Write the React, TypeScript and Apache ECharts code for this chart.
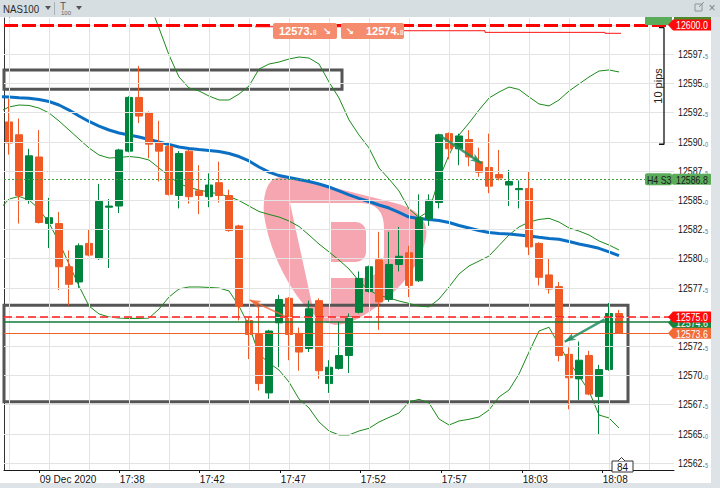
import React, { useEffect, useLayoutEffect, useRef } from "react";
import * as echarts from "echarts";

// candles (index 0..61)
const opens = [
  12591.7, 12590.6, 12585.0, 12588.7, 12583.0, 12583.0, 12579.3, 12578.0, 12581.3, 12580.0,
  12584.4, 12584.5, 12589.2, 12593.8, 12592.5, 12589.9, 12589.6, 12585.4, 12589.2, 12585.8,
  12585.3, 12586.5, 12585.4, 12582.8, 12574.7, 12573.5, 12568.5, 12574.5, 12576.6, 12573.6,
  12572.3, 12576.4, 12569.3, 12570.6, 12571.7, 12575.4, 12577.2, 12579.9, 12576.5, 12579.5,
  12580.5, 12578.1, 12583.4, 12584.8, 12590.7, 12589.4, 12590.2, 12588.3, 12587.8, 12587.2,
  12586.3, 12585.9, 12586.0, 12581.3, 12578.6, 12577.6, 12571.8, 12569.7, 12571.7, 12568.2,
  12570.5, 12575.3,
];
const closes = [
  12589.9, 12585.4, 12588.8, 12583.1, 12583.5, 12579.3, 12577.8, 12581.1, 12580.3, 12584.9,
  12584.5, 12589.3, 12593.8, 12592.2, 12589.8, 12589.2, 12585.5, 12589.0, 12585.3, 12585.4,
  12586.3, 12585.4, 12582.4, 12575.9, 12573.5, 12569.3, 12573.8, 12576.5, 12573.5, 12572.0,
  12575.7, 12570.4, 12570.7, 12571.7, 12575.0, 12578.3, 12579.3, 12576.3, 12579.5, 12580.2,
  12577.7, 12583.5, 12585.0, 12590.6, 12589.4, 12590.5, 12588.7, 12587.4, 12586.2, 12586.9,
  12586.6, 12586.0, 12581.0, 12578.4, 12577.4, 12571.7, 12569.8, 12571.3, 12568.4, 12570.5,
  12575.3, 12573.6,
];
const lows = [
  12588.9, 12583.0, 12584.7, 12583.0, 12580.9, 12577.3, 12576.0, 12577.5, 12580.2, 12579.9,
  12579.2, 12583.9, 12589.1, 12591.6, 12588.6, 12586.6, 12585.4, 12584.3, 12584.7, 12583.8,
  12584.4, 12584.8, 12582.3, 12574.7, 12571.4, 12568.7, 12568.0, 12570.7, 12571.3, 12570.4,
  12572.0, 12569.7, 12568.5, 12570.5, 12570.2, 12575.3, 12577.1, 12573.9, 12576.3, 12578.9,
  12576.7, 12578.0, 12582.8, 12584.3, 12588.5, 12588.0, 12587.9, 12587.0, 12585.6, 12586.7,
  12584.5, 12584.3, 12580.3, 12577.7, 12577.0, 12571.2, 12567.1, 12567.9, 12568.3, 12564.9,
  12570.4, 12573.6,
];
const highs = [
  12593.7, 12592.0, 12589.4, 12591.0, 12585.2, 12584.0, 12580.7, 12581.3, 12582.5, 12586.4,
  12585.1, 12589.4, 12593.9, 12596.5, 12592.6, 12591.8, 12589.7, 12589.2, 12589.3, 12588.0,
  12587.3, 12588.3, 12585.9, 12582.9, 12575.0, 12575.9, 12573.9, 12576.9, 12576.7, 12574.1,
  12576.4, 12576.6, 12571.3, 12574.6, 12575.3, 12578.9, 12579.4, 12582.3, 12582.3, 12582.7,
  12581.1, 12585.5, 12585.5, 12590.7, 12590.8, 12590.7, 12591.0, 12589.5, 12590.7, 12589.3,
  12587.6, 12586.7, 12587.5, 12581.4, 12580.0, 12578.0, 12572.4, 12572.9, 12572.1, 12570.9,
  12576.2, 12575.6,
];

// indicator lines start one candle left of the first visible candle
const lineStart = -1;
const ma = [
  12593.88, 12593.84, 12593.77, 12593.72, 12593.62, 12593.45, 12593.15, 12592.72, 12592.21, 12591.74,
  12591.35, 12591.01, 12590.75, 12590.58, 12590.41, 12590.2, 12589.98, 12589.77, 12589.55, 12589.43,
  12589.34, 12589.26, 12589.17, 12589.0, 12588.74, 12588.36, 12587.84, 12587.41, 12587.11, 12586.94,
  12586.77, 12586.6, 12586.39, 12586.13, 12585.79, 12585.45, 12585.15, 12584.89, 12584.59, 12584.33,
  12583.95, 12583.56, 12583.43, 12583.35, 12583.26, 12583.09, 12582.83, 12582.62, 12582.41, 12582.23,
  12582.15, 12582.11, 12582.02, 12581.93, 12581.82, 12581.72, 12581.65, 12581.46, 12581.25, 12581.08,
  12580.88, 12580.57, 12580.25,
];
const bbUpper = [
  12600.94, 12600.86, 12600.98, 12601.2, 12601.54, 12601.88, 12602.14, 12602.48, 12602.83, 12603.0,
  12602.48, 12602.23, 12602.4, 12602.61, 12602.44, 12601.97, 12599.74, 12597.43, 12595.55, 12594.61,
  12594.35, 12593.92, 12593.58, 12593.58, 12594.09, 12594.78, 12596.23, 12596.66, 12596.83, 12597.09,
  12597.26, 12597.17, 12596.66, 12595.12, 12593.75, 12591.87, 12590.58, 12589.47, 12587.76, 12586.82,
  12585.79, 12584.25, 12583.52, 12584.08, 12586.82, 12588.87, 12590.58, 12591.61, 12592.72, 12593.75,
  12594.26, 12594.69, 12594.48, 12593.84, 12593.24, 12593.07, 12593.58, 12594.35, 12594.95, 12595.55,
  12596.06, 12596.15, 12595.98,
];
const bbMiddle = [
  12592.55, 12592.98, 12593.15, 12593.11, 12592.89, 12592.47, 12591.78, 12591.01, 12590.24, 12589.47,
  12588.87, 12588.61, 12588.66, 12588.74, 12588.66, 12588.44, 12587.76, 12587.07, 12586.43, 12586.09,
  12585.87, 12585.7, 12585.53, 12585.32, 12584.97, 12584.5, 12584.03, 12583.78, 12583.56, 12583.22,
  12582.75, 12582.02, 12581.25, 12580.57, 12579.88, 12579.11, 12578.08, 12577.31, 12576.84, 12576.63,
  12576.37, 12576.16, 12575.94, 12575.86, 12576.54, 12577.57, 12578.68, 12579.37, 12579.79, 12580.22,
  12581.12, 12582.02, 12582.71, 12583.13, 12583.35, 12583.45, 12583.13, 12582.62, 12582.36, 12582.02,
  12581.51, 12581.16, 12580.74,
];
const bbLower = [
  12584.16, 12585.1, 12585.32, 12585.02, 12584.25, 12583.05, 12581.42, 12579.54, 12577.65, 12575.94,
  12575.26, 12575.0, 12574.91, 12574.87, 12574.87, 12574.91, 12575.68, 12576.71, 12577.4, 12577.57,
  12577.57, 12577.53, 12577.48, 12577.23, 12575.94, 12574.23, 12571.83, 12571.06, 12570.46, 12569.43,
  12567.98, 12567.21, 12566.01, 12565.24, 12564.9, 12564.9, 12565.24, 12565.47, 12566.01, 12566.4,
  12566.78, 12567.72, 12567.95, 12567.64, 12566.27, 12565.75, 12566.1, 12566.24, 12566.44, 12567.04,
  12568.15, 12568.75, 12570.12, 12572.0, 12573.8, 12574.12, 12572.6, 12571.15, 12569.95, 12568.66,
  12566.61, 12566.35, 12565.5,
];

// axes
const yTicks = [
  12562.5, 12565, 12567.5, 12570, 12572.5, 12575, 12577.5, 12580,
  12582.5, 12585, 12587.5, 12590, 12592.5, 12595, 12597.5, 12600,
];
const xTickPos = [3.07, 11.07, 19.07, 27.17, 35.17, 43.27, 51.37, 59.37];
const xTickLabels = ["09 Dec 2020", "17:38", "17:42", "17:47", "17:52", "17:57", "18:03", "18:08"];
const gridXs = [0, 4, 8, 12, 16, 20, 24, 28, 32, 36, 40, 44, 48, 52, 56, 60, 64];

// levels and drawings
const topLevel = 12600.0;
const pivotS3 = 12586.8;
const redLevel = 12575.0;
const greenLevel = 12574.63;
const lastPrice = 12573.6;
const boxX0 = [-0.5, -0.5];
const boxX1 = [33.3, 61.9];
const boxYTop = [12596.15, 12576.0];
const boxYBottom = [12594.5, 12567.75];
const greenArrowFrom = [[43.07, 12590.54], [59.57, 12574.8]];
const greenArrowTo = [[47.24, 12588.16], [55.57, 12572.88]];
const orangeArrowFrom = [27.57, 12575.09];
const orangeArrowTo = [24.07, 12576.46];
const stepX = [24.6, 33.3, 47.6, 59.6, 61.2];
const stepY = [12599.85, 12599.51, 12599.37, 12599.29, 12599.29];
const pipsX = [65.0, 65.5, 65.5, 65.0];
const pipsY = [12599.77, 12599.77, 12589.79, 12589.79];

const FONT = "'Liberation Sans', Arial, sans-serif";
const NARROW = 0.8; // the terminal's font is a narrow one
const UP = "#00843d";
const DOWN = "#f15a24";
const PINK = "#f6a6b0";

echarts.graphic.registerShape(
  "logoBlob",
  echarts.graphic.extendPath(
    "M 272 180 Q 280 175 292 177 L 395 203 Q 430 212 426 238 Q 420 270 385 300 Q 355 325 335 325 Q 315 322 295 293 Q 270 255 264 215 Q 262 190 272 180 Z",
    {}
  )
);
echarts.graphic.registerShape(
  "logoP",
  echarts.graphic.extendPath(
    "M 290 203 L 360 203 Q 384 203 384 228 L 384 252 Q 384 278 360 278 L 331 278 L 331 304 L 312 304 Z",
    {}
  )
);

const splitPrice = (v: number) => {
  const s = v.toFixed(1);
  const dot = s.indexOf(".");
  return [s.slice(0, dot + 1), s.slice(dot + 1)];
};

const midText = (x: number, y: number, text: string, fill: string, size: number, z: number, extra: any = {}) => ({
  type: "text",
  z,
  silent: true,
  x,
  y,
  ...extra,
  style: {
    text,
    fill,
    font: `${extra.bold ? "bold " : ""}${size}px ${FONT}`,
    textAlign: extra.align || "left",
    align: extra.align || "left",
    textVerticalAlign: "middle",
    verticalAlign: "middle",
  },
});

function tag(yc: number, fill: string, text: string, color: string, z: number) {
  const h = 5.5;
  return [
    {
      type: "polygon",
      z,
      silent: true,
      shape: { points: [[668, yc], [673, yc - h], [712, yc - h], [712, yc + h], [673, yc + h]] },
      style: { fill },
    },
    midText(676, yc + 0.5, text, color, 11, z + 0.1, { scaleX: NARROW }),
  ];
}

function priceButton(x: number, w: number, price: number, arrowLeft: boolean) {
  const [a, b] = splitPrice(price);
  const tx = arrowLeft ? x + 25 : x + 6;
  const ax = arrowLeft ? x + 9 : x + w - 10;
  return [
    { type: "rect", z: 60, silent: true, shape: { x, y: 23, width: w, height: 16, r: 2 }, style: { fill: "#f58c6e" } },
    {
      type: "text",
      z: 61,
      silent: true,
      x: tx,
      y: 31,
      style: {
        text: `{a|${a}}{b|${b}}`,
        textVerticalAlign: "middle",
        verticalAlign: "middle",
        rich: {
          a: { fill: "#fff", fontSize: 11, fontWeight: "bold", fontFamily: FONT },
          b: { fill: "#fde0d6", fontSize: 7, fontWeight: "bold", fontFamily: FONT, padding: [3, 0, 0, 0] },
        },
      },
    },
    {
      type: "text",
      z: 61,
      silent: true,
      x: ax,
      y: 31,
      style: { text: "↘", fill: "#fff", font: `bold 10px 'DejaVu Sans', sans-serif`, textAlign: "center", align: "center", textVerticalAlign: "middle", verticalAlign: "middle" },
    },
  ];
}

function buildGraphic(py: (v: number) => number): any[] {
  const tri = (x: number) => ({
    type: "polygon",
    z: 101,
    silent: true,
    shape: { points: [[x, 6], [x + 6, 6], [x + 3, 10]] },
    style: { fill: "#555" },
  });
  const yTop = py(topLevel);
  const yS3 = py(pivotS3);
  const yLabels = yTicks.map((v) => {
    const [a, b] = splitPrice(v);
    return {
      type: "text",
      z: 30,
      silent: true,
      x: 678,
      y: py(v),
      scaleX: NARROW,
      style: {
        text: `{a|${a}}{b|${b}}`,
        textVerticalAlign: "middle",
        verticalAlign: "middle",
        rich: {
          a: { fill: "#111", fontSize: 11, fontFamily: FONT },
          b: { fill: "#5b7594", fontSize: 7, fontFamily: FONT, padding: [4, 0, 0, 0] },
        },
      },
    };
  });
  return [
    // watermark
    { type: "logoBlob", z: 0, silent: true, style: { fill: PINK } },
    { type: "logoP", z: 0.2, silent: true, style: { fill: "#ffffff" } },
    { type: "rect", z: 0.3, silent: true, shape: { x: 331, y: 222, width: 35, height: 40, r: [0, 10, 10, 0] }, style: { fill: PINK } },

    // frame
    { type: "rect", z: 100, silent: true, shape: { x: 0, y: 0, width: 720, height: 17 }, style: { fill: "#d7dee2" } },
    { type: "rect", z: 100, silent: true, shape: { x: 711, y: 17, width: 9, height: 471 }, style: { fill: "#dde3e6" } },
    { type: "rect", z: 100, silent: true, shape: { x: 0, y: 483, width: 720, height: 5 }, style: { fill: "#dde3e6" } },
    midText(3, 9, "NAS100", "#2a2a2a", 11, 101, { scaleX: 0.88 }),
    tri(45),
    { type: "line", z: 101, silent: true, shape: { x1: 54.5, y1: 2, x2: 54.5, y2: 15 }, style: { stroke: "#a9b2b8", lineWidth: 1 } },
    midText(60, 6, "T", "#555", 10, 101),
    midText(61, 13, "100", "#666", 6, 101),
    tri(76),
    { type: "rect", z: 101, silent: true, shape: { x: 695, y: 4, width: 7, height: 7 }, style: { fill: "none", stroke: "#8a959c", lineWidth: 1 } },
    { type: "line", z: 101, silent: true, shape: { x1: 699, y1: 7, x2: 704, y2: 2 }, style: { stroke: "#8a959c", lineWidth: 1 } },
    midText(712, 8, "×", "#7d878d", 12, 101, { align: "center" }),

    // order buttons
    ...priceButton(273, 64, 12573.8, false),
    ...priceButton(341, 63, 12574.8, true),

    // price scale
    ...yLabels,

    // right side tags
    { type: "rect", z: 40, silent: true, shape: { x: 645, y: yTop - 12, width: 27, height: 12 }, style: { fill: "#5aab5a" } },
    { type: "rect", z: 40, silent: true, shape: { x: 674, y: yTop - 12, width: 38, height: 12 }, style: { fill: "#4d8a2c" } },
    ...tag(yTop, "#ff0a0a", "12600.0", "#ffffff", 50),
    { type: "rect", z: 50, silent: true, shape: { x: 645, y: yS3 - 6, width: 27, height: 12, r: 2 }, style: { fill: "#5aab5a" } },
    midText(647, yS3 + 0.5, "H4 S3", "#1a1a1a", 11, 50.1, { scaleX: NARROW }),
    ...tag(yS3, "#5aab5a", "12586.8", "#1a1a1a", 50),
    ...tag(py(greenLevel) + 1.5, "#17843c", "12574.6", "#ffffff", 52),
    ...tag(py(redLevel), "#ff0a0a", "12575.0", "#ffffff", 54),
    ...tag(py(lastPrice), "#f26a35", "12573.6", "#ffffff", 56),

    // measurement text and bar counter
    midText(658, (py(pipsY[0]) + py(pipsY[2])) / 2, "10 pips", "#222", 11, 60, { rotation: Math.PI / 2, align: "center" }),
    { type: "rect", z: 60, silent: true, shape: { x: 612, y: 461, width: 21, height: 11 }, style: { fill: "#fff", stroke: "#333", lineWidth: 1 } },
    { type: "polyline", z: 60, silent: true, shape: { points: [[618, 461], [621.5, 457.5], [625, 461]] }, style: { fill: "#fff", stroke: "#333", lineWidth: 1 } },
    midText(622.5, 467, "84", "#111", 10, 61, { align: "center" }),
  ];
}

const toLine = (arr: number[]) => arr.map((v, k) => [lineStart + k, v]);
const candleData = opens.map((o, i) => [i, o, closes[i], lows[i], highs[i]]);

function buildOption(): echarts.EChartsOption {
  const yMin = 12561.9;
  const yMax = 12600.6;
  return {
    animation: false,
    backgroundColor: "#ffffff",
    textStyle: { fontFamily: FONT },
    tooltip: { show: false },
    grid: { left: 4, right: 46, top: 18, bottom: 18, outerBoundsMode: "none" } as any,
    xAxis: {
      type: "value",
      min: -0.5,
      max: 66.5,
      axisLine: { show: true, onZero: false, lineStyle: { color: "#1a1a1a", width: 1 } },
      axisTick: { show: true, customValues: xTickPos, length: 3, lineStyle: { color: "#1a1a1a" } } as any,
      axisLabel: {
        customValues: xTickPos,
        align: "left",
        margin: 4,
        fontSize: 10,
        color: "#111",
        fontFamily: FONT,
        formatter: (v: number) => {
          const k = xTickPos.findIndex((p) => Math.abs(p - v) < 0.01);
          return k >= 0 ? xTickLabels[k] : "";
        },
      } as any,
      splitLine: { show: false },
    },
    yAxis: [
      {
        type: "value",
        position: "right",
        min: yMin,
        max: yMax,
        axisLine: { show: true, lineStyle: { color: "#1a1a1a", width: 1 } },
        axisTick: { show: true, customValues: yTicks, length: 3, lineStyle: { color: "#1a1a1a" } } as any,
        axisLabel: { show: false },
        splitLine: { show: false },
      },
      {
        type: "value",
        position: "left",
        min: yMin,
        max: yMax,
        axisLine: { show: true, lineStyle: { color: "#333", width: 1 } },
        axisTick: { show: false },
        axisLabel: { show: false },
        splitLine: { show: false },
      },
    ],
    series: [
      {
        type: "line",
        name: "grid",
        data: [[-3, 12580]],
        symbol: "none",
        lineStyle: { opacity: 0 },
        z: 1,
        silent: true,
        markLine: {
          silent: true,
          symbol: ["none", "none"],
          label: { show: false },
          lineStyle: { color: "#e3e3e3", width: 1, type: "solid" },
          data: [...gridXs.map((x) => ({ xAxis: x })), ...yTicks.map((y) => ({ yAxis: y }))],
        },
      },
      ...[bbUpper, bbMiddle, bbLower].map((arr, k) => ({
        type: "line" as const,
        name: ["BB upper", "BB middle", "BB lower"][k],
        data: toLine(arr),
        symbol: "none",
        silent: true,
        z: 2,
        lineStyle: { color: "#1b8a1b", width: 1 },
      })),
      {
        type: "line",
        name: "MA",
        data: toLine(ma),
        symbol: "none",
        silent: true,
        z: 3,
        lineStyle: { color: "#0b6fc3", width: 3 },
      },
      {
        type: "candlestick",
        name: "NAS100",
        data: candleData,
        encode: { x: 0, y: [1, 2, 3, 4] },
        barWidth: 7,
        silent: true,
        z: 4,
        itemStyle: { color: UP, color0: DOWN, borderColor: UP, borderColor0: DOWN, borderWidth: 1 },
      },
      {
        type: "line",
        name: "levels",
        data: [[-3, 12580]],
        symbol: "none",
        lineStyle: { opacity: 0 },
        z: 6,
        silent: true,
        markLine: {
          silent: true,
          symbol: ["none", "none"],
          label: { show: false },
          data: [
            { yAxis: pivotS3, lineStyle: { color: "#3f9c3f", width: 1, type: [2, 2] } },
            { yAxis: lastPrice, lineStyle: { color: "#f0602a", width: 1, type: "solid" } },
            { yAxis: greenLevel, lineStyle: { color: "#12783a", width: 1.5, type: "solid" } },
            { yAxis: redLevel, lineStyle: { color: "#ff1a1a", width: 1.5, type: [8, 4] } },
            { yAxis: topLevel, lineStyle: { color: "#ff0000", width: 3, type: [14, 4] } },
          ] as any,
        },
        markArea: {
          silent: true,
          itemStyle: { color: "rgba(0,0,0,0)", borderColor: "#555555", borderWidth: 3 },
          data: boxX0.map((x0, k) => [
            { coord: [x0, boxYTop[k]] },
            { coord: [boxX1[k], boxYBottom[k]] },
          ]) as any,
        },
      },
      {
        type: "line",
        name: "arrows",
        data: [[-3, 12580]],
        symbol: "none",
        lineStyle: { opacity: 0 },
        z: 7,
        silent: true,
        markLine: {
          silent: true,
          symbol: ["none", "arrow"],
          symbolSize: [6, 11],
          label: { show: false },
          data: [
            ...greenArrowFrom.map((from, k) => [
              { coord: from, lineStyle: { color: "rgba(32,140,92,0.85)", width: 2.5, type: "solid" }, itemStyle: { color: "rgba(32,140,92,0.85)" } },
              { coord: greenArrowTo[k] },
            ]),
            [
              { coord: orangeArrowFrom, lineStyle: { color: "rgba(240,100,50,0.8)", width: 1.5, type: "solid" }, itemStyle: { color: "rgba(240,100,50,0.85)" } },
              { coord: orangeArrowTo },
            ],
          ] as any,
        },
      },
      {
        type: "line",
        name: "ask trail",
        step: "end",
        data: stepX.map((x, k) => [x, stepY[k]]),
        symbol: "none",
        silent: true,
        z: 6,
        lineStyle: { color: "#ff1414", width: 1 },
      },
      {
        type: "line",
        name: "pips",
        data: pipsX.map((x, k) => [x, pipsY[k]]),
        symbol: "none",
        silent: true,
        z: 6,
        lineStyle: { color: "#111111", width: 1.3 },
      },
    ] as any,
  };
}

export default function App() {
  const ref = useRef<HTMLDivElement | null>(null);

  useLayoutEffect(() => {
    document.body.style.margin = "0";
  }, []);

  useEffect(() => {
    if (!ref.current) return;
    const chart = echarts.init(ref.current, undefined, { renderer: "svg" });
    chart.setOption(buildOption());
    const py = (v: number) => (chart.convertToPixel({ gridIndex: 0 }, [0, v]) as number[])[1];
    chart.setOption({ graphic: buildGraphic(py) } as any);
    return () => {
      chart.dispose();
    };
  }, []);

  return <div ref={ref} style={{ width: 720, height: 488, overflow: "hidden" }} />;
}
